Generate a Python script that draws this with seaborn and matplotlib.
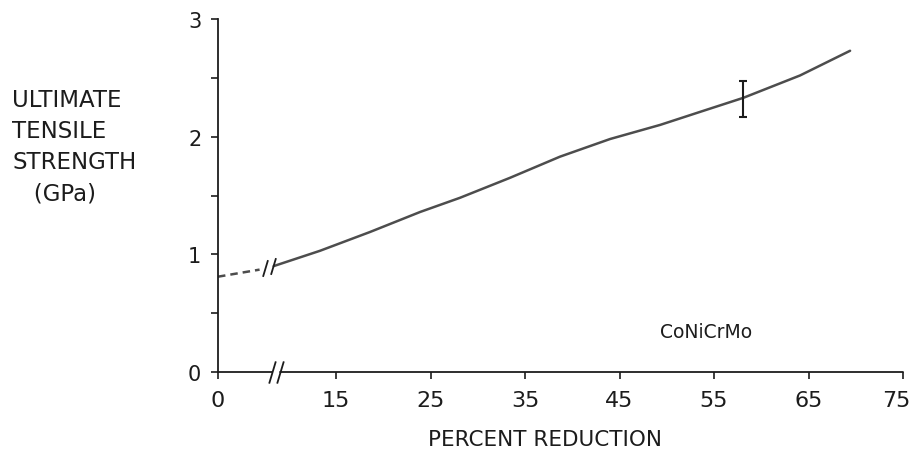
import numpy as np
import matplotlib
matplotlib.use("Agg")
import matplotlib.pyplot as plt
import matplotlib.transforms as mtransforms
from matplotlib.path import Path
import seaborn as sns
import pandas as pd

# ---------------- data ----------------
dashed_x = [0.0, 4.4]
dashed_y = [0.81, 0.87]
solid_x = [8.4, 13.3, 18.6, 23.9, 28.1, 33.4, 38.7, 44.0, 49.3, 53.5, 58.1, 64.1, 69.4]
solid_y = [0.90, 1.03, 1.19, 1.36, 1.48, 1.65, 1.83, 1.98, 2.10, 2.21, 2.33, 2.52, 2.73]
err_x = [58.1]
err_y = [2.32]
err_low = [0.15]
err_high = [0.15]
x_ticks = [0, 15, 25, 35, 45, 55, 65, 75]
y_ticks = [0, 1, 2, 3]
y_minor_ticks = [0.5, 1.5, 2.5]
alloy_label = "CoNiCrMo"
x_label = "PERCENT REDUCTION"
y_label = "ULTIMATE\nTENSILE\nSTRENGTH\n   (GPa)"

# ---------------- broken x-axis scale ----------------
BREAK_LO, BREAK_HI, SHIFT = 4.6, 8.4, 2.51
knots_data = np.array([-200.0, BREAK_LO, BREAK_HI, 300.0])
knots_disp = np.array([-200.0, BREAK_LO, BREAK_HI - SHIFT, 300.0 - SHIFT])


def fwd(x):
    return np.interp(np.asarray(x, dtype=float), knots_data, knots_disp)


def inv(v):
    return np.interp(np.asarray(v, dtype=float), knots_disp, knots_data)


sns.set_theme(style="white")
plt.rcParams["font.family"] = ["DejaVu Sans"]

INK = "#1c1c1c"
CURVE = "#4d4d4d"

fig = plt.figure(figsize=(9.14, 4.52), dpi=100)
ax = fig.add_axes([218 / 914, 79 / 452, 685 / 914, 353 / 452])
ax.set_xscale("function", functions=(fwd, inv))

df_dash = pd.DataFrame({"x": dashed_x, "y": dashed_y})
df_solid = pd.DataFrame({"x": solid_x, "y": solid_y})
sns.lineplot(data=df_dash, x="x", y="y", ax=ax, color=CURVE, lw=1.8,
             linestyle=(0, (3, 2)), estimator=None, sort=False)
sns.lineplot(data=df_solid, x="x", y="y", ax=ax, color=CURVE, lw=1.8,
             estimator=None, sort=False)
ax.errorbar(err_x, err_y, yerr=[err_low, err_high], fmt="none",
            ecolor=INK, elinewidth=1.5, capsize=3, capthick=1.5)

ax.set_xlim(0, 75)
ax.set_ylim(0, 3)

# spines
for s in ["top", "right", "bottom"]:
    ax.spines[s].set_visible(False)
ax.spines["left"].set_color(INK)
ax.spines["left"].set_linewidth(1.3)

# broken x-axis line drawn in two parts
slash_axis = inv([5.71, 6.56])
ax.plot([0, slash_axis[0]], [0, 0], color=INK, lw=1.3, clip_on=False)
ax.plot([slash_axis[1], 75], [0, 0], color=INK, lw=1.3, clip_on=False)

slash = Path([(-0.3, -1.0), (0.3, 1.0)], [Path.MOVETO, Path.LINETO])
ax.plot(slash_axis, [0, 0], linestyle="none", marker=slash, markersize=16,
        markeredgecolor=INK, markeredgewidth=1.3, clip_on=False)
slash_curve = inv([4.97, 5.82])
ax.plot(slash_curve, [dashed_y[-1] + 0.01, solid_y[0]], linestyle="none",
        marker=slash, markersize=12, markeredgecolor=INK, markeredgewidth=1.3,
        clip_on=False)

# ticks
ax.set_xticks(x_ticks)
ax.set_xticklabels([str(t) for t in x_ticks])
ax.xaxis.set_minor_locator(matplotlib.ticker.NullLocator())
ax.set_yticks(y_ticks)
ax.set_yticklabels([str(t) for t in y_ticks])
ax.set_yticks(y_minor_ticks, minor=True)
ax.tick_params(axis="x", which="major", direction="out", length=5, width=1.2,
               color=INK, labelsize=16, labelcolor=INK, pad=8, bottom=True)
ax.tick_params(axis="y", which="both", direction="out", length=5, width=1.2,
               color=INK, labelsize=15, labelcolor=INK, pad=7, left=True)
# keep the last x tick label inside the figure, as in the reference
last = ax.get_xticklabels()[-1]
last.set_transform(last.get_transform() +
                   mtransforms.ScaledTranslation(-7 / 100, 0, fig.dpi_scale_trans))

# labels
ax.set_xlabel(x_label, fontsize=15.5, color=INK, va="baseline")
ax.xaxis.set_label_coords(0.477, -0.207)
ax.set_ylabel(y_label, fontsize=16.5, color=INK, rotation=0, ha="left",
              va="top", multialignment="left", linespacing=1.45)
ax.yaxis.set_label_coords(-0.30, 0.805)

ax.text(inv(51.6), 0.34, alloy_label, fontsize=13.5, color=INK,
        ha="center", va="center")

fig.savefig("out.png", dpi=100)
